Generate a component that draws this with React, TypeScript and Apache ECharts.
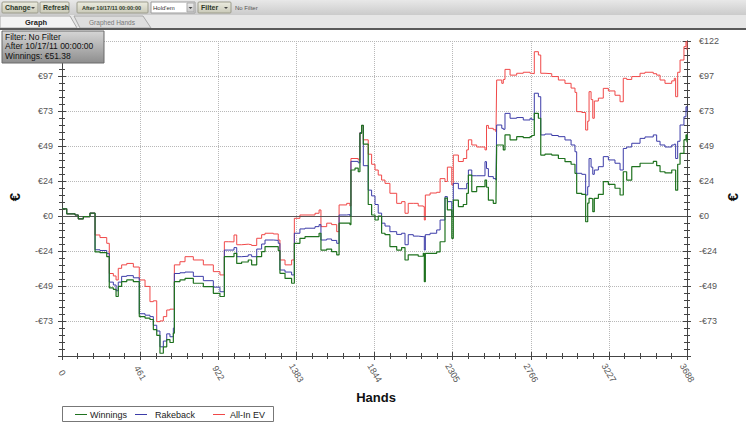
import { useEffect, useRef } from "react";
import * as echarts from "echarts";

// Hands played (x values)
const hands = [
  0, 28, 77, 96, 126, 165, 195, 224, 264, 279,
  303, 319, 332, 352, 382, 421, 456, 490, 519, 539,
  559, 578, 598, 618, 637, 657, 663, 696, 726, 775,
  834, 893, 932, 958, 981, 1015, 1031, 1060, 1099, 1119,
  1149, 1178, 1198, 1247, 1276, 1286, 1316, 1355, 1371, 1404,
  1434, 1493, 1517, 1528, 1562, 1591, 1621, 1635, 1680, 1699,
  1705, 1729, 1748, 1758, 1768, 1778, 1807, 1827, 1847, 1866,
  1886, 1906, 1935, 1975, 2004, 2024, 2043, 2073, 2102, 2132,
  2138, 2144, 2172, 2211, 2231, 2260, 2274, 2300, 2309, 2339,
  2368, 2388, 2398, 2418, 2447, 2496, 2505, 2516, 2545, 2561,
  2565, 2595, 2604, 2614, 2644, 2683, 2722, 2762, 2772, 2787,
  2811, 2825, 2850, 2890, 2929, 2968, 3004, 3027, 3037, 3067,
  3090, 3102, 3110, 3122, 3132, 3141, 3165, 3194, 3224, 3263,
  3293, 3312, 3332, 3362, 3411, 3440, 3489, 3509, 3529, 3558,
  3598, 3613, 3621, 3633, 3647, 3670, 3682, 3688,
];

const winnings = [
  5, 1.5, 0.7, -2, -0.5, 2, -25, -25.5, -28.3, -50,
  -51, -56, -49, -45.7, -44.5, -45.7, -70, -71, -72, -79,
  -83, -95.5, -91, -86, -88, -81.5, -45.7, -44.5, -43.4, -46.8,
  -49.2, -53.8, -56, -28.3, -28.3, -26, -33, -32, -30.6, -34,
  -28.3, -24.8, -21.3, -21.3, -24, -39.9, -43.4, -46.8, -19, -15.5,
  -14.4, -14.4, -12, -23.7, -23, -24.8, -27, -5, -5, -6,
  32, 33.3, 30.8, 57.5, 63, 50, 8, 0.7, -2.8, 0,
  -12, -13, -21.3, -23.7, -22, -30.6, -27, -27, -28, -26,
  -45.7, -26, -26, -25, -17.9, 12.5, 4.2, -15.5, 11, 6.5,
  8, 15.8, 28.5, 17, 20.4, 25, 20, 11, 8.8, 12.5,
  49.4, 49.4, 46, 56.4, 53, 55.2, 54.5, 55.2, 56, 71.4,
  68, 42.4, 43, 42.4, 40, 37.8, 36, 29.7, 15.8, 15,
  -4, 9, 12.3, 12, 3, 12.3, 15, 23.9, 22, 19.3,
  14.6, 30.8, 25, 34.3, 36.7, 36.7, 38, 35, 30.8, 30,
  32, 32, 18, 36, 43.6, 52.9, 56.4, 51.38,
];

const rakeback = [
  5, 1.5, 0.7, -2, -0.5, 2, -23.5, -24, -26, -46,
  -48, -52, -46, -42, -41.5, -43, -68, -69, -70, -76,
  -80, -91, -87, -82, -84, -78, -40, -39.5, -39, -42,
  -45, -49.5, -52.7, -23.7, -23.7, -22, -28.3, -28, -27, -28.3,
  -23, -19.5, -16.7, -17, -19, -37.6, -39, -41, -12, -9,
  -8.5, -7.4, -6, -16.7, -16, -17, -19, 0.7, 1, 0,
  38, 38, 37, 58, 63, 35, 18, 14, 8, 2,
  -5, -7, -10.9, -12.8, -12, -20, -13, -14, -14.4, -14,
  -23.7, -13, -12, -9.7, -2.8, 13.5, 10, -0.5, 22.7, 19,
  19, 22.7, 32, 28, 28, 37.8, 33, 27.4, 26, 25,
  63.3, 61, 60.3, 71.4, 68, 68.5, 66.8, 68, 67, 85.4,
  83, 56.4, 57, 56, 55.2, 52.9, 49.4, 44.7, 29.7, 29,
  14.6, 20.4, 40, 34, 29, 32, 34.3, 41.3, 39, 36.7,
  32, 47, 48, 50.6, 54, 55, 56.4, 52, 49.4, 48,
  49.4, 50, 40, 52, 63.3, 69, 76, 72.6,
];

const allInEv = [
  5, 1.5, 0.7, -2, -0.5, 2, -13.2, -15, -19, -40,
  -41.7, -44.5, -36.4, -34, -33, -35.5, -44.5, -49, -59.6, -59,
  -73.5, -73, -70, -65.4, -64.8, -65, -34, -31.8, -28.3, -30.6,
  -34, -38.7, -41, -17.9, -18, -13.2, -20, -19.6, -20, -20.5,
  -15.5, -13, -12, -12.5, -16.7, -30.6, -34, -30.6, -1.6, 0.7,
  0.7, 1.9, 4.2, -7.4, -5, -6, -10.9, 7.7, 8.8, 7,
  40, 40, 39, 58, 63, 53, 43, 36, 32, 28.5,
  25, 22.7, 15.8, 8.8, 10, 1.9, 8.8, 8.8, 7, 6.5,
  -2.8, 14.6, 16, 16.5, 26, 24, 34, 21.6, 42.4, 37.9,
  40, 46, 53, 49.4, 48, 46, 63, 61, 60, 58.6,
  94.6, 92.3, 95, 102, 98, 99.3, 100, 99.3, 99, 114.3,
  112, 99.3, 99, 97, 94.6, 92.3, 89, 86, 72.6, 72,
  59.8, 66, 86.5, 81, 68, 80, 82, 88.8, 87, 84,
  79.5, 95.8, 95, 97, 99.3, 100, 99, 98, 94.6, 92.3,
  94, 95.8, 83, 100, 108.5, 117.8, 121.3, 115.5,
];

const seriesNames = ["Winnings", "Rakeback", "All-In EV"];
const seriesColors = ["#1f721f", "#3c3ca8", "#f04848"];
const xMax = 3688;
const xStep = 461;
const yStep = 24.35;
const yMin = -97.4;
const yMax = 121.75;
const filterLines = ["Filter: No Filter", "After 10/17/11 00:00:00", "Winnings: €51.38"];

const FONT = '"Liberation Sans", Arial, sans-serif';

function euro(v: number) {
  const r = Math.round(v);
  return (r < 0 ? "-" : "") + "€" + Math.abs(r);
}

function grad(c1: string, c2: string) {
  return new echarts.graphic.LinearGradient(0, 0, 0, 1, [
    { offset: 0, color: c1 },
    { offset: 1, color: c2 },
  ]);
}

function button(x: number, w: number, label: string, arrow: boolean, small?: boolean): any[] {
  const els: any[] = [
    {
      type: "rect",
      shape: { x, y: 2, width: w, height: 11, r: 1 },
      style: { fill: grad("#ecece0", "#c9c9b8"), stroke: "#9c9c8c", lineWidth: 1 },
      z: 100,
    },
    {
      type: "text",
      x: x + (small ? 5 : 3),
      y: 7.5,
      style: {
        text: label,
        font: (small ? "bold 5.5px " : "bold 7px ") + FONT,
        fill: "#2f3a2a",
        verticalAlign: "middle",
      },
      z: 101,
    },
  ];
  if (arrow) {
    els.push({
      type: "polygon",
      shape: { points: [[x + w - 7, 7], [x + w - 3, 7], [x + w - 5, 9]] },
      style: { fill: "#444" },
      z: 101,
    });
  }
  return els;
}

// legend layout (line start x, text x)
const legendItems = [
  { lx: 75, tx: 90 },
  { lx: 135, tx: 155 },
  { lx: 213, tx: 230 },
];

export default function App() {
  const ref = useRef<HTMLDivElement>(null);

  useEffect(() => {
    if (!ref.current) return;
    const chart = echarts.init(ref.current, null, { renderer: "svg" });

    const axisColor = "#444";
    const labelStyle = { fontSize: 9, color: "#555", fontFamily: FONT };

    const xBase: any = {
      type: "value",
      min: 0,
      max: xMax,
      interval: xStep,
      position: "bottom",
      axisLine: { show: true, onZero: false, lineStyle: { color: axisColor, width: 1 } },
    };
    const yBase: any = {
      type: "value",
      min: yMin,
      max: yMax,
      interval: yStep,
      axisLine: { show: true, onZero: false, lineStyle: { color: axisColor, width: 1 } },
    };

    const legendEls: any[] = [
      {
        type: "rect",
        shape: { x: 62.5, y: 406.5, width: 211, height: 15 },
        style: { fill: "#ffffff", stroke: "#777", lineWidth: 1 },
        z: 100,
      },
    ];
    legendItems.forEach((it, i) => {
      legendEls.push({
        type: "line",
        shape: { x1: it.lx, y1: 414.5, x2: it.lx + 12, y2: 414.5 },
        style: { stroke: seriesColors[i], lineWidth: 1 },
        z: 101,
      });
      legendEls.push({
        type: "text",
        x: it.tx,
        y: 414.5,
        style: { text: seriesNames[i], font: "9px " + FONT, fill: "#222", verticalAlign: "middle" },
        z: 101,
      });
    });

    const graphicEls: any[] = [
      {
        type: "rect",
        shape: { x: 0, y: 0, width: 746, height: 15 },
        style: { fill: grad("#e8e8e8", "#cbcbcb") },
        z: 99,
      },
      ...button(2, 36, "Change", true),
      ...button(40, 29, "Refresh", false),
      ...button(77, 71, "After 10/17/11 00:00:00", false, true),
      {
        type: "rect",
        shape: { x: 151, y: 2, width: 44, height: 11 },
        style: { fill: "#ffffff", stroke: "#9c9c9c" },
        z: 100,
      },
      {
        type: "text",
        x: 153,
        y: 7.5,
        style: { text: "Hold'em", font: "6px " + FONT, fill: "#333", verticalAlign: "middle" },
        z: 101,
      },
      {
        type: "rect",
        shape: { x: 187, y: 3, width: 7, height: 9 },
        style: { fill: grad("#eeeeee", "#c8c8c8"), stroke: "#aaa" },
        z: 101,
      },
      {
        type: "polygon",
        shape: { points: [[188.5, 7], [192.5, 7], [190.5, 9]] },
        style: { fill: "#444" },
        z: 102,
      },
      ...button(198, 33, "Filter", true),
      {
        type: "text",
        x: 235,
        y: 7.5,
        style: { text: "No Filter", font: "6px " + FONT, fill: "#555", verticalAlign: "middle" },
        z: 101,
      },
      // tabs row
      {
        type: "rect",
        shape: { x: 0, y: 15, width: 746, height: 13 },
        style: { fill: "#e6e6e6" },
        z: 99,
      },
      {
        type: "polygon",
        shape: { points: [[74, 16], [143, 16], [151, 28], [80, 28]] },
        style: { fill: "#dedede", stroke: "#a8a8a8" },
        z: 100,
      },
      {
        type: "polygon",
        shape: { points: [[0, 16], [70, 16], [77, 28], [0, 28]] },
        style: { fill: "#f3f3f3", stroke: "#a8a8a8" },
        z: 101,
      },
      {
        type: "text",
        x: 36,
        y: 22.5,
        style: { text: "Graph", font: "bold 7.5px " + FONT, fill: "#222", align: "center", verticalAlign: "middle" },
        z: 102,
      },
      {
        type: "text",
        x: 112,
        y: 22.5,
        style: { text: "Graphed Hands", font: "6.5px " + FONT, fill: "#777", align: "center", verticalAlign: "middle" },
        z: 102,
      },
      {
        type: "rect",
        shape: { x: 0, y: 28, width: 746, height: 2 },
        style: { fill: "#5a5a5a" },
        z: 102,
      },
      // filter box
      {
        type: "rect",
        shape: { x: 2, y: 31, width: 102, height: 32 },
        style: { fill: grad("#d6d6d6", "#8e8e8e"), stroke: "#6a6a6a", lineWidth: 1 },
        z: 110,
      },
      ...filterLines.map((t, i) => ({
        type: "text",
        x: 5,
        y: 36.5 + i * 9.8,
        style: { text: t, font: "8.5px " + FONT, fill: "#111", verticalAlign: "middle", lineHeight: 9 },
        z: 111,
      })),
      // axis names
      {
        type: "text",
        x: 14,
        y: 197,
        rotation: Math.PI / 2,
        style: { text: "€", font: "bold 15px " + FONT, fill: "#111", align: "center", verticalAlign: "middle" },
        z: 100,
      },
      {
        type: "text",
        x: 732,
        y: 197,
        rotation: Math.PI / 2,
        style: { text: "€", font: "bold 15px " + FONT, fill: "#111", align: "center", verticalAlign: "middle" },
        z: 100,
      },
      {
        type: "text",
        x: 376,
        y: 397,
        style: { text: "Hands", font: "bold 13px " + FONT, fill: "#111", align: "center", verticalAlign: "middle" },
        z: 100,
      },
      ...legendEls,
    ];

    const option: any = {
      animation: false,
      backgroundColor: "#ffffff",
      grid: { left: 62, right: 59, top: 41, bottom: 69, containLabel: false },
      xAxis: [
        {
          ...xBase,
          axisTick: { show: true, length: 4, lineStyle: { color: axisColor } },
          minorTick: { show: true, splitNumber: 5, length: 3, lineStyle: { color: axisColor } },
          axisLabel: {
            ...labelStyle,
            rotate: -60,
            align: "center",
            verticalAlign: "middle",
            margin: 17,
            showMaxLabel: true,
            showMinLabel: true,
            formatter: (v: number) => String(Math.round(v)),
          },
          splitLine: { show: true, lineStyle: { type: "dotted", color: "#b8b8b8", width: 1 } },
        },
        {
          ...xBase,
          axisTick: { show: true, inside: true, length: 4, lineStyle: { color: axisColor } },
          minorTick: { show: true, splitNumber: 5, length: 3, lineStyle: { color: axisColor } },
          axisLabel: { show: false },
          splitLine: { show: false },
        },
      ],
      yAxis: [
        {
          ...yBase,
          position: "left",
          axisTick: { show: true, length: 4, lineStyle: { color: axisColor } },
          minorTick: { show: true, splitNumber: 5, length: 3, lineStyle: { color: axisColor } },
          axisLabel: { ...labelStyle, formatter: euro, margin: 9, showMinLabel: false, showMaxLabel: false },
          splitLine: { show: true, lineStyle: { type: "dotted", color: "#b8b8b8", width: 1 } },
        },
        {
          ...yBase,
          position: "left",
          axisTick: { show: true, inside: true, length: 4, lineStyle: { color: axisColor } },
          minorTick: { show: true, splitNumber: 5, length: 3, lineStyle: { color: axisColor } },
          axisLabel: { show: false },
          splitLine: { show: false },
        },
        {
          ...yBase,
          position: "right",
          axisTick: { show: true, length: 4, lineStyle: { color: axisColor } },
          minorTick: { show: true, splitNumber: 5, length: 3, lineStyle: { color: axisColor } },
          axisLabel: { ...labelStyle, formatter: euro, margin: 12, showMinLabel: false },
          splitLine: { show: false },
        },
        {
          ...yBase,
          position: "right",
          axisTick: { show: true, inside: true, length: 4, lineStyle: { color: axisColor } },
          minorTick: { show: true, splitNumber: 5, length: 3, lineStyle: { color: axisColor } },
          axisLabel: { show: false },
          splitLine: { show: false },
        },
      ],
      series: [
        {
          name: "All-In EV",
          type: "line",
          step: "end",
          showSymbol: false,
          data: hands.map((h, i) => [h, allInEv[i]]),
          lineStyle: { color: seriesColors[2], width: 1 },
          itemStyle: { color: seriesColors[2] },
          z: 3,
          markLine: {
            silent: true,
            symbol: ["none", "none"],
            label: { show: false },
            lineStyle: { color: "#555", type: "solid", width: 1 },
            data: [{ yAxis: 0 }],
          },
        },
        {
          name: "Rakeback",
          type: "line",
          step: "end",
          showSymbol: false,
          data: hands.map((h, i) => [h, rakeback[i]]),
          lineStyle: { color: seriesColors[1], width: 1 },
          itemStyle: { color: seriesColors[1] },
          z: 4,
        },
        {
          name: "Winnings",
          type: "line",
          step: "end",
          showSymbol: false,
          data: hands.map((h, i) => [h, winnings[i]]),
          lineStyle: { color: seriesColors[0], width: 1.2 },
          itemStyle: { color: seriesColors[0] },
          z: 5,
        },
      ],
      graphic: { elements: graphicEls },
    };

    chart.setOption(option);
    return () => chart.dispose();
  }, []);

  return (
    <div
      ref={ref}
      style={{ position: "fixed", left: 0, top: 0, width: 746, height: 425, background: "#fff" }}
    />
  );
}
